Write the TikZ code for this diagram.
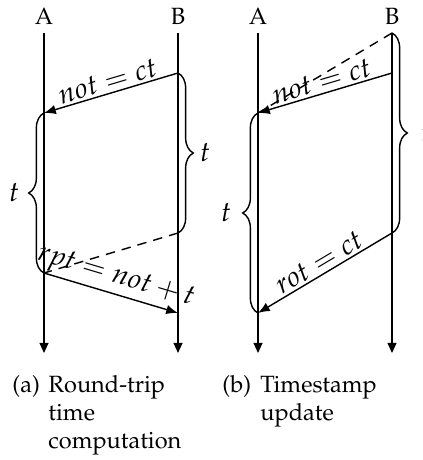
\documentclass[tikz,border=0pt]{standalone}
\usepackage[T1]{fontenc}
\usepackage{mathpazo}
\usetikzlibrary{arrows.meta,decorations.pathreplacing}
\tikzset{
  life/.style={line width=0.6pt,-{Triangle[length=4.3pt,width=3.8pt]}},
  msg/.style={line width=0.6pt,-{Latex[length=5pt,width=4pt]}},
  dsh/.style={line width=0.6pt,dashed,dash pattern=on 4pt off 3pt},
  brc/.style={line width=0.6pt,decorate,decoration={brace,amplitude=6.5pt}},
  lbl/.style={sloped,above,inner sep=1pt,font=\large},
  tl/.style={font=\large},
  proc/.style={inner sep=0pt,anchor=base}
}
\begin{document}
\begin{tikzpicture}[x=0.425pt,y=-0.425pt]
\useasboundingbox (0,0) rectangle (423,460);
% ---------- (a) ----------
\node[proc] (LA) at (44,25) {A};
\node[proc] (LB) at (178,25) {B};
\coordinate (la0) at (44,33);
\coordinate (lb0) at (178,33);
\coordinate (la1) at (44,113);
\coordinate (la2) at (44,273);
\coordinate (lb1) at (178,73);
\coordinate (lb2) at (178,233);
\coordinate (lb3) at (178,313);
\coordinate (laE) at (44,353);
\coordinate (lbE) at (178,353);
\draw[life] (la0) -- (laE);
\draw[life] (lb0) -- (lbE);
\draw[msg] (lb1) -- node[lbl] (lm1) {$not = ct$} (la1);
\draw[dsh] (lb2) -- (la2);
\draw[msg] (la2) -- node[lbl] (lm2) {$rpt = not + t$} (lb3);
\draw[brc] (lb1) -- (lb2);
\draw[brc] (la2) -- (la1);
\node[tl] (lt1) at (205,153) {$t$};
\node[tl] (lt2) at (14,193) {$t$};
% ---------- (b) ----------
\node[proc] (RA) at (258,25) {A};
\node[proc] (RB) at (392,25) {B};
\coordinate (ra0) at (258,33);
\coordinate (rb0) at (392,33);
\coordinate (ra1) at (258,113);
\coordinate (ra2) at (258,313);
\coordinate (rb1) at (392,73);
\coordinate (rb2) at (392,233);
\coordinate (raE) at (258,353);
\coordinate (rbE) at (392,353);
\draw[life] (ra0) -- (raE);
\draw[life] (rb0) -- (rbE);
\draw[dsh] (rb0) -- (ra1);
\draw[msg] (rb1) -- node[lbl] (rm1) {$not = ct$} (ra1);
\draw[msg] (rb2) -- node[lbl] (rm2) {$rot = ct$} (ra2);
\draw[brc] (rb0) -- (rb2);
\draw[brc] (ra2) -- (ra1);
\node[tl] (rt1) at (426,133) {$t$};
\node[tl] (rt2) at (226,213) {$t$};
% ---------- captions ----------
\node[proc,anchor=base west] (capa) at (12,392) {(a)};
\node[proc,anchor=base west] (capat) at (48,392)
  {\begin{tabular}[t]{@{}l@{}}Round-trip\\ time\\ computation\end{tabular}};
\node[proc,anchor=base west] (capb) at (222,392) {(b)};
\node[proc,anchor=base west] (capbt) at (260,392)
  {\begin{tabular}[t]{@{}l@{}}Timestamp\\ update\end{tabular}};
\end{tikzpicture}
\end{document}
